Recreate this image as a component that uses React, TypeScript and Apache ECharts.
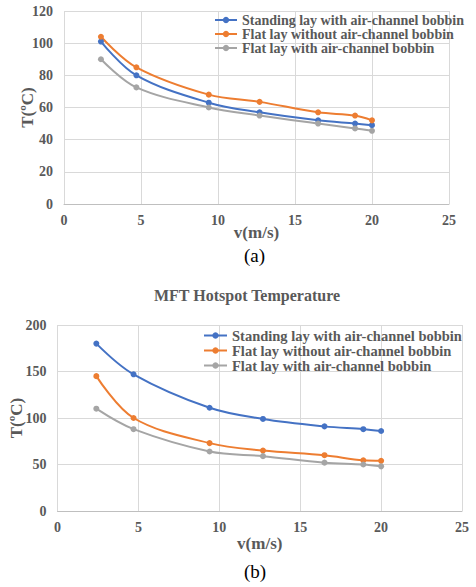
import React, { useEffect, useRef } from "react";
import * as echarts from "echarts";

const speeds = [2.4, 4.7, 9.4, 12.7, 16.5, 18.9, 20];
const seriesNames = [
  "Standing lay with air-channel bobbin",
  "Flat lay without air-channel bobbin",
  "Flat lay with air-channel bobbin",
];
const tempAStanding = [101, 80, 63, 57, 52, 50, 49];
const tempAFlatNo = [104, 85, 68, 63.5, 57, 55, 52];
const tempAFlatWith = [90, 72.5, 60, 55, 50, 47, 45.5];
const tempBStanding = [180, 147, 111, 99, 91, 88, 86];
const tempBFlatNo = [145, 100, 73, 65, 60, 54.5, 54];
const tempBFlatWith = [110, 88, 64, 59, 52, 50, 48];
const colors = ["#4472C4", "#ED7D31", "#A5A5A5"];

const FONT = "Liberation Serif";
const GRAY = "#595959";

function pairs(ys: number[]) {
  return speeds.map((x, i) => [x, ys[i]]);
}

export default function App() {
  const ref = useRef<HTMLDivElement>(null);
  useEffect(() => {
    if (!ref.current) return;
    const chart = echarts.init(ref.current, undefined, { renderer: "svg" });
    const xAxisBase = (gridIndex: number, gap: number) => ({
      type: "value" as const,
      gridIndex,
      min: 0,
      max: 25,
      interval: 5,
      name: "v(m/s)",
      nameLocation: "middle" as const,
      nameGap: gap,
      nameMoveOverlap: false,
      nameTextStyle: { fontFamily: FONT, fontWeight: "bold", fontSize: 17, color: GRAY },
      axisLine: { show: true, lineStyle: { color: "#BFBFBF", width: 1 } },
      axisTick: { show: false },
      axisLabel: { fontFamily: FONT, fontWeight: "bold", fontSize: 14, color: GRAY, margin: 9 },
      splitLine: { show: true, lineStyle: { color: "#D9D9D9", width: 1 } },
    });
    const yAxisBase = (gridIndex: number, max: number, interval: number, gap: number) => ({
      type: "value" as const,
      gridIndex,
      min: 0,
      max,
      interval,
      name: "T(ºC)",
      nameLocation: "middle" as const,
      nameGap: gap,
      nameMoveOverlap: false,
      nameTextStyle: { fontFamily: FONT, fontWeight: "bold", fontSize: 17, color: GRAY },
      axisLine: { show: false },
      axisTick: { show: false },
      axisLabel: { fontFamily: FONT, fontWeight: "bold", fontSize: 14, color: GRAY, margin: 11 },
      splitLine: { show: true, lineStyle: { color: "#D9D9D9", width: 1 } },
    });
    const mk = (name: string, data: number[], idx: number, color: string) => ({
      type: "line" as const,
      name,
      xAxisIndex: idx,
      yAxisIndex: idx,
      data: pairs(data),
      smooth: 0.35,
      symbol: "circle",
      symbolSize: 6,
      itemStyle: { color },
      lineStyle: { color, width: 2 },
    });
    const legendBase = {
      orient: "vertical" as const,
      padding: 0,
      itemWidth: 22,
      itemHeight: 8,
      itemGap: 0,
      data: seriesNames,
    };
    chart.setOption({
      animation: false,
      backgroundColor: "#ffffff",
      textStyle: { fontFamily: FONT },
      title: {
        text: "MFT Hotspot Temperature",
        left: 242,
        top: 282,
        textAlign: "center",
        textStyle: { fontFamily: FONT, fontWeight: "bold", fontSize: 16, color: GRAY },
      },
      grid: [
        { left: 64, top: 11, right: 27, height: 193 },
        { left: 54, top: 325, right: 14, height: 186 },
      ],
      xAxis: [xAxisBase(0, 20), xAxisBase(1, 24)],
      yAxis: [yAxisBase(0, 120, 20, 28.5), yAxisBase(1, 200, 50, 32.5)],
      legend: [
        {
          ...legendBase,
          left: 214,
          top: 13,
          textStyle: { fontFamily: FONT, fontWeight: "bold", fontSize: 14, color: GRAY, lineHeight: 13.5 },
        },
        {
          ...legendBase,
          left: 203,
          top: 328,
          itemWidth: 23,
          textStyle: { fontFamily: FONT, fontWeight: "bold", fontSize: 14.5, color: GRAY, lineHeight: 13.4 },
        },
      ],
      series: [
        mk(seriesNames[0], tempAStanding, 0, colors[0]),
        mk(seriesNames[1], tempAFlatNo, 0, colors[1]),
        mk(seriesNames[2], tempAFlatWith, 0, colors[2]),
        mk(seriesNames[0], tempBStanding, 1, colors[0]),
        mk(seriesNames[1], tempBFlatNo, 1, colors[1]),
        mk(seriesNames[2], tempBFlatWith, 1, colors[2]),
      ],
      graphic: [
        {
          type: "text",
          left: 244,
          top: 246,
          style: { text: "(a)", fontFamily: FONT, fontSize: 19, fill: "#000000" },
        },
        {
          type: "text",
          left: 244,
          top: 562,
          style: { text: "(b)", fontFamily: FONT, fontSize: 19, fill: "#000000" },
        },
      ],
    });
    return () => chart.dispose();
  }, []);
  return (
    <div
      ref={ref}
      style={{ position: "absolute", left: 0, top: 0, width: 476, height: 587 }}
    />
  );
}
